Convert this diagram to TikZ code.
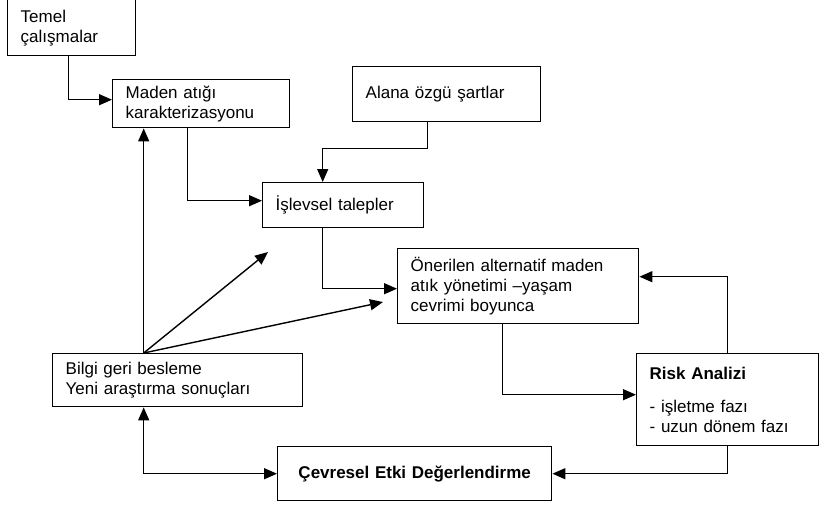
\documentclass[tikz,border=0pt]{standalone}
\usepackage{fontspec}
\setmainfont{Liberation Sans}
\usepackage{xcolor}
\usetikzlibrary{arrows.meta,positioning,calc}

\begin{document}
\begin{tikzpicture}[
    x=1pt, y=-1pt,
    every node/.style={font=\fontsize{17}{20}\selectfont},
    wasteBox/.style={
        rectangle,
        draw=black, line width=1.4pt, fill=white,
        anchor=north west, align=left,
        inner xsep=13pt, inner ysep=2pt
    },
    flowArrow/.style={
        -{Triangle[length=13pt,width=11pt]}, line width=1.4pt, draw=black
    },
    bothArrow/.style={
        {Triangle[length=13pt,width=11pt]}-{Triangle[length=13pt,width=11pt]},
        line width=1.4pt, draw=black
    }
]
    \useasboundingbox (0,0) rectangle (822,504);

    % Boxes
    \node[wasteBox, minimum width=128pt, minimum height=56pt, text width=102pt] (temel) at (7,-1) {Temel\\çalışmalar};
    \node[wasteBox, minimum width=177pt, minimum height=48pt, text width=151pt] (maden) at (112,79) {Maden atığı\\karakterizasyonu};
    \node[wasteBox, minimum width=188pt, minimum height=55pt, text width=162pt] (alana) at (352,66) {Alana özgü şartlar};
    \node[wasteBox, minimum width=161pt, minimum height=45pt, text width=135pt] (islevsel) at (262,182) {İşlevsel talepler};
    \node[wasteBox, minimum width=241pt, minimum height=75pt, text width=215pt] (oneri) at (397,248) {Önerilen alternatif maden\\atık yönetimi –yaşam\\cevrimi boyunca};
    \node[wasteBox, minimum width=250pt, minimum height=53pt, text width=224pt] (bilgi) at (52,353) {Bilgi geri besleme\\Yeni araştırma sonuçları};
    \node[wasteBox, minimum width=182pt, minimum height=92pt, text width=156pt] (risk) at (636,353) {\textbf{Risk Analizi}\\[13pt]- işletme fazı\\- uzun dönem fazı};
    \node[wasteBox, minimum width=274pt, minimum height=54pt, text width=248pt, align=center] (cevre) at (277,446) {\textbf{Çevresel Etki Değerlendirme}};

    % Free ends of the feedback arrows
    \coordinate (fb) at ([xshift=-34pt]bilgi.north);
    \coordinate (tipA) at (268,252);
    \coordinate (tipB) at (383,302);

    % Flows
    \draw[flowArrow] ([xshift=-3pt]temel.south) |- ([yshift=4pt]maden.west);
    \draw[flowArrow] ([xshift=-13.5pt]maden.south) |- ([yshift=4.5pt]islevsel.west);
    \draw[flowArrow] ([xshift=-19pt]alana.south) -- ++(0,26) -| ([xshift=-20.5pt]islevsel.north);
    \draw[flowArrow] ([xshift=-20.5pt]islevsel.south) |- ([yshift=-2.5pt]oneri.west);
    \draw[flowArrow] ([xshift=-15.5pt]oneri.south) |- ([yshift=5pt]risk.west);
    \draw[flowArrow] (risk.north) |- ([yshift=9.5pt]oneri.east);
    \draw[flowArrow] (risk.south) |- (cevre.east);
    \draw[bothArrow] ([xshift=-34pt]bilgi.south) |- (cevre.west);

    \draw[flowArrow] (fb) -- (fb |- maden.south);
    \draw[flowArrow] (fb) -- (tipA);
    \draw[flowArrow] (fb) -- (tipB);

\end{tikzpicture}
\end{document}
